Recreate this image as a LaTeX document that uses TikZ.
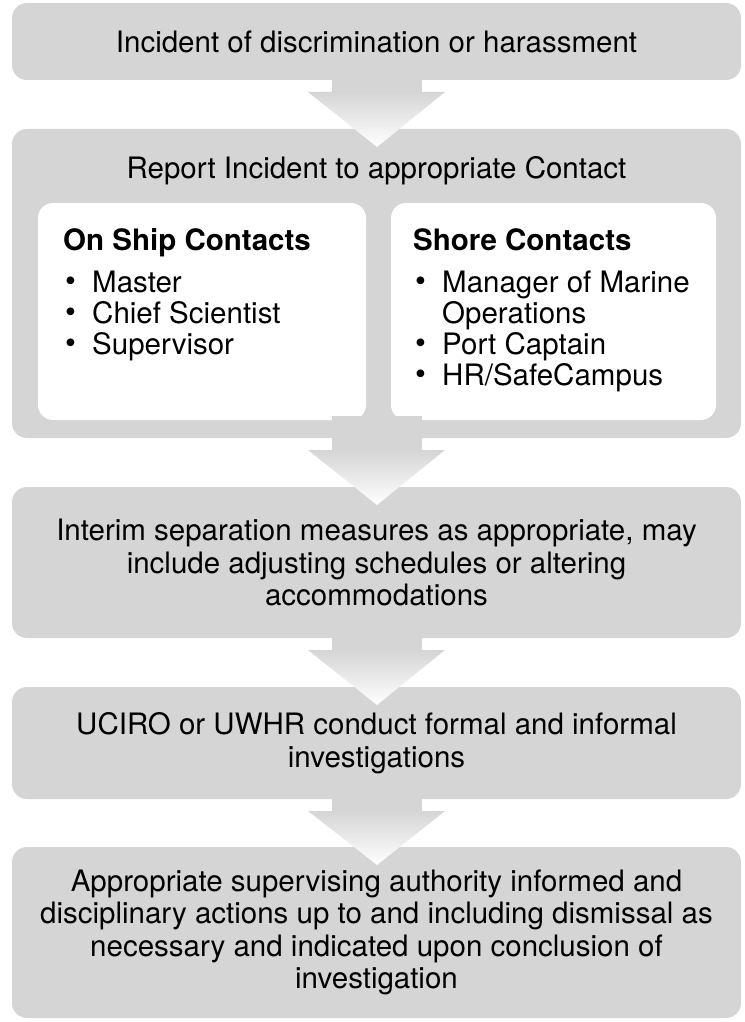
\documentclass[tikz,border=0pt]{standalone}
\usepackage{fontspec}
\setmainfont{TeX Gyre Heros}
\usetikzlibrary{positioning}
\definecolor{boxgray}{RGB}{213,213,213}
\newcommand{\bul}{\makebox[29pt][l]{\hspace{2pt}\raisebox{0.5pt}{\fontsize{31pt}{31pt}\selectfont\textbullet}}}
\newcommand{\toprule}{\rule{0pt}{23pt}}

\begin{document}
\begin{tikzpicture}[
  box/.style={fill=boxgray, rounded corners=15pt, minimum width=729pt, align=center, inner sep=0pt, outer sep=0pt,
    font=\fontsize{29.5pt}{32.5pt}\selectfont},
  panel/.style={fill=white, rounded corners=15pt, minimum height=217pt, inner sep=0pt, outer sep=0pt},
  plist/.style={align=left, inner sep=0pt, anchor=north west, font=\fontsize{29.5pt}{31pt}\selectfont}
]
\useasboundingbox (0,0) rectangle (744pt,-1022pt);
\node[box, minimum height=77pt] (incident) at (376.5pt,-41.5pt) {Incident of discrimination or harassment};
\node[box, minimum height=309pt, below=49pt of incident] (report) {};
\node[box, minimum height=151pt, below=49pt of report] (interim) {Interim separation measures as appropriate, may\\include adjusting schedules or altering\\accommodations};
\node[box, minimum height=112pt, below=49pt of interim] (investig) {UCIRO or UWHR conduct formal and informal\\investigations};
\node[box, minimum height=171pt, below=48pt of investig] (action) {Appropriate supervising authority informed and\\disciplinary actions up to and including dismissal as\\necessary and indicated upon conclusion of\\investigation};

% contacts inside the report box
\node[anchor=base, inner sep=0pt, font=\fontsize{29.5pt}{32.5pt}\selectfont] (reporttitle) at ([yshift=-49.5pt]report.north) {Report Incident to appropriate Contact};
\node[panel, minimum width=328pt, anchor=north west] (ship) at ([xshift=26pt,yshift=-74pt]report.north west) {};
\node[panel, minimum width=325pt, anchor=north east] (shore) at ([xshift=-25pt,yshift=-74pt]report.north east) {};
\node[plist] (shiplist) at ([xshift=25pt,yshift=-24.5pt]ship.north west)
  {\toprule\textbf{On Ship Contacts}\\[10.5pt]\bul Master\\\bul Chief Scientist\\\bul Supervisor};
\node[plist] (shorelist) at ([xshift=22pt,yshift=-24.5pt]shore.north west)
  {\toprule\textbf{Shore Contacts}\\[10.5pt]\bul Manager of Marine\\\hspace*{29pt}Operations\\\bul Port Captain\\\bul HR/SafeCampus};

% block arrows between the steps
\foreach \a/\b in {incident/report, report/interim, interim/investig, investig/action} {
  \fill[boxgray] ([xshift=-45pt,yshift=22pt]\a.south) rectangle ([xshift=45pt,yshift=-12pt]\a.south);
  \shade[top color=boxgray, bottom color=white]
    ([xshift=-68.5pt,yshift=-12pt]\a.south) -- ([xshift=68.5pt,yshift=-12pt]\a.south)
    -- ([xshift=0.5pt,yshift=-18pt]\b.north) -- cycle;
}
\end{tikzpicture}
\end{document}
